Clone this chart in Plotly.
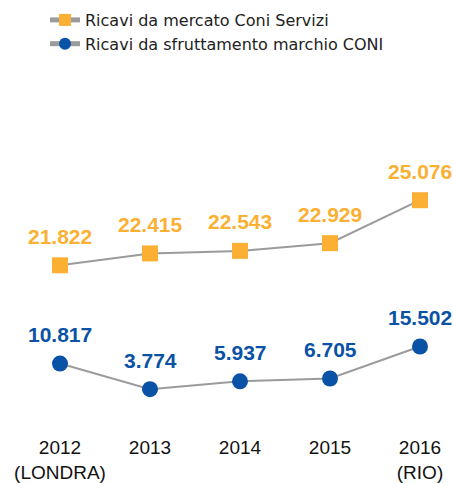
import plotly.graph_objects as go

years = ["2012<br>(LONDRA)", "2013", "2014", "2015", "2016<br>(RIO)"]
mercato = [21.822, 22.415, 22.543, 22.929, 25.076]
marchio = [10.817, 3.774, 5.937, 6.705, 15.502]
labels_mercato = ["21.822", "22.415", "22.543", "22.929", "25.076"]
labels_marchio = ["10.817", "3.774", "5.937", "6.705", "15.502"]

ORANGE = "#FBB034"
BLUE = "#0A52A5"
GRAY = "#9B9B9B"

xs = list(range(len(years)))

W, H = 453, 483
TOP, BOT = 150, 73
PH = H - TOP - BOT

fig = go.Figure()
fig.add_trace(go.Scatter(
    x=xs, y=mercato, name="Ricavi da mercato Coni Servizi",
    mode="lines+markers", line=dict(color=GRAY, width=2),
    marker=dict(symbol="square", size=16, color=ORANGE), yaxis="y",
))
fig.add_trace(go.Scatter(
    x=xs, y=marchio, name="Ricavi da sfruttamento marchio CONI",
    mode="lines+markers", line=dict(color=GRAY, width=2),
    marker=dict(symbol="circle", size=16, color=BLUE), yaxis="y2",
))

annotations = []
for x, v, t in zip(xs, mercato, labels_mercato):
    annotations.append(dict(x=x, y=v, xref="x", yref="y", text="<b>" + t + "</b>", showarrow=False,
                            yshift=29, font=dict(family="Liberation Sans", size=21, color=ORANGE)))
for x, v, t in zip(xs, marchio, labels_marchio):
    annotations.append(dict(x=x, y=v, xref="x", yref="y2", text="<b>" + t + "</b>", showarrow=False,
                            yshift=29, font=dict(family="Liberation Sans", size=21, color=BLUE)))

fig.update_layout(
    width=W, height=H,
    margin=dict(l=0, r=0, t=TOP, b=BOT, pad=0, autoexpand=False),
    paper_bgcolor="white", plot_bgcolor="white",
    showlegend=True,
    legend=dict(x=45 / W, y=1 + (TOP - 3) / PH, xanchor="left", yanchor="top",
                font=dict(family="DejaVu Sans", size=16, color="#222222"),
                tracegroupgap=0, itemwidth=30, itemsizing="constant",
                bgcolor="rgba(0,0,0,0)"),
    xaxis=dict(range=[-60 / 90, (W - 60) / 90], tickmode="array", tickvals=xs, ticktext=years,
               showgrid=False, zeroline=False, showline=False, ticks="", automargin=False,
               tickfont=dict(family="Liberation Sans", size=19, color="#111111"),
               ticklabelstandoff=24),
    yaxis=dict(range=[14.587, 27.587], visible=False, showgrid=False),
    yaxis2=dict(range=[-1.95, 69.5], visible=False, showgrid=False, overlaying="y"),
    annotations=annotations,
)

fig.write_html("out.html", config={"displayModeBar": False},
               post_script="document.body.style.margin='0px';document.body.style.overflow='hidden';")
